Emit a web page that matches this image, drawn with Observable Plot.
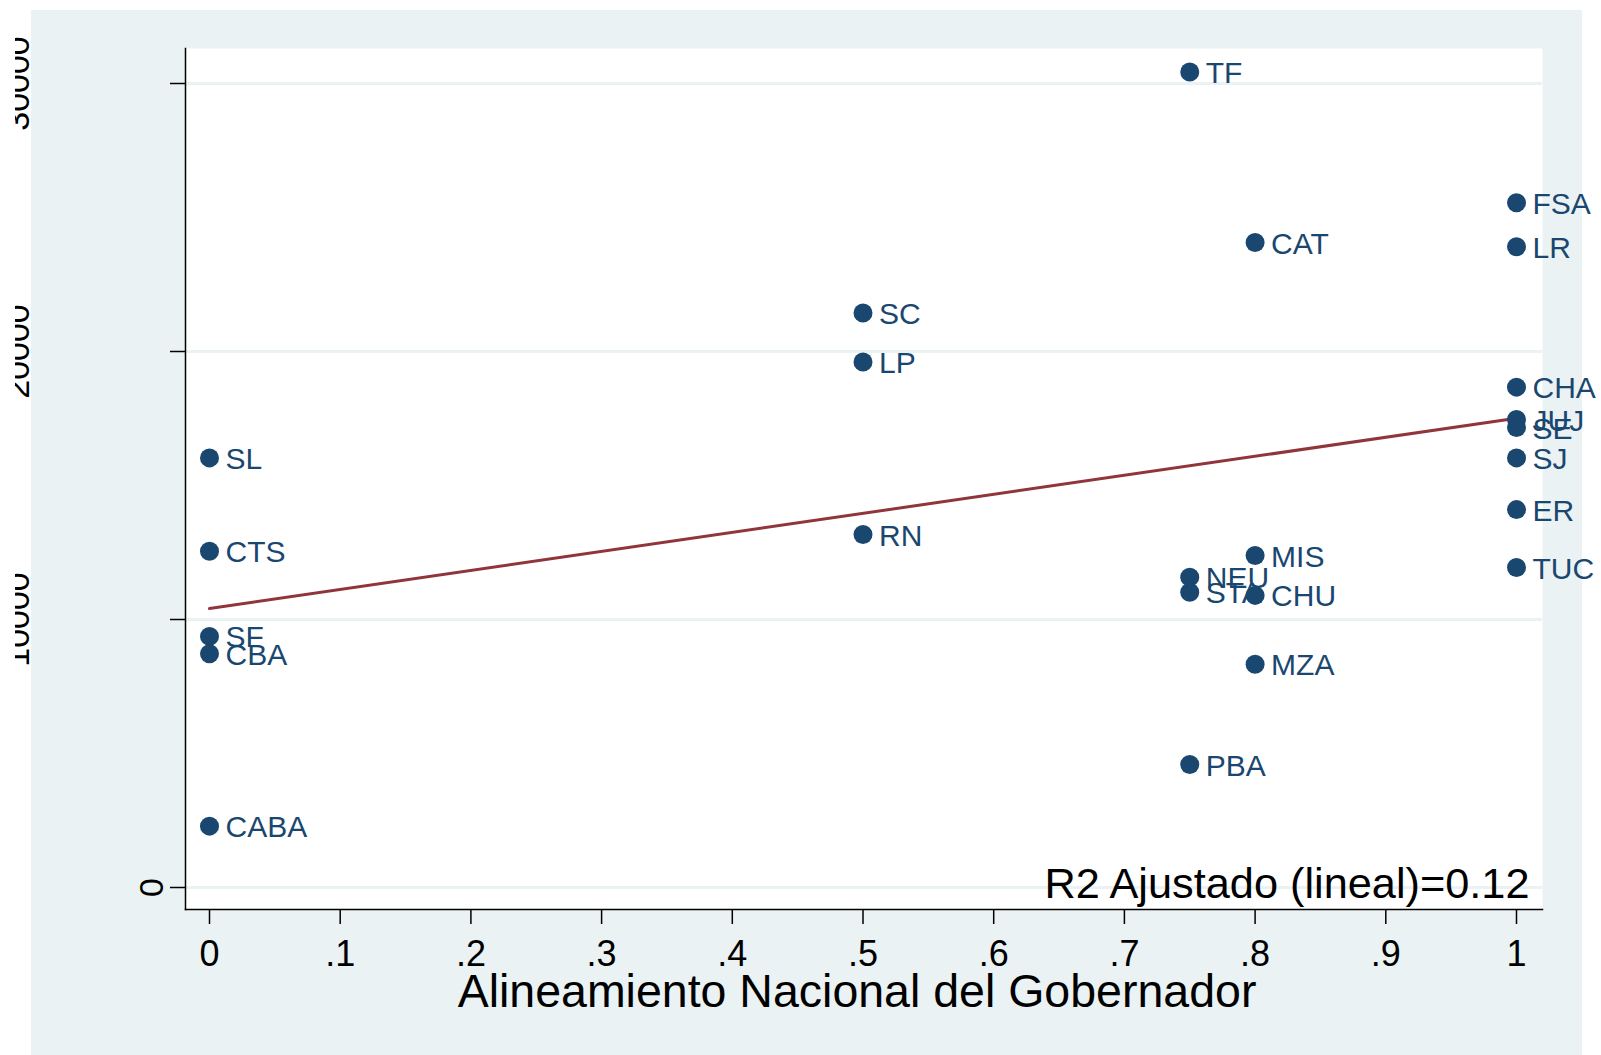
<!DOCTYPE html>
<html>
<head>
<meta charset="utf-8">
<script src="https://cdn.jsdelivr.net/npm/d3@7"></script>
<script src="https://cdn.jsdelivr.net/npm/@observablehq/plot@0.6"></script>
<style>
  html, body { margin: 0; padding: 0; background: #ffffff; }
  #bg { position: absolute; left: 31px; top: 10px; width: 1551px; height: 1045px; background: #eaf2f3; }
  #chart { position: absolute; left: 0; top: 0; }
  #chart svg { clip-path: inset(0px 0px 0px 15px); }
</style>
</head>
<body>
<div id="bg"></div>
<div id="chart"></div>
<script>
// ---- data ----
const provinces = ["SL","CTS","SF","CBA","CABA","SC","LP","RN","TF","NEU","STA","PBA","CAT","MIS","CHU","MZA","FSA","LR","CHA","JUJ","SE","SJ","ER","TUC"];
const alignment = [0,0,0,0,0,0.5,0.5,0.5,0.75,0.75,0.75,0.75,0.8,0.8,0.8,0.8,1,1,1,1,1,1,1,1];
const values = [16030,12550,9370,8720,2290,21440,19610,13170,30430,11580,11020,4590,24070,12390,10900,8330,25550,23910,18670,17460,17160,16030,14100,11940];
const xTicks = [0,0.1,0.2,0.3,0.4,0.5,0.6,0.7,0.8,0.9,1];
const yTicks = [0,10000,20000,30000];
const xTitle = "Alineamiento Nacional del Gobernador";
const r2Label = "R2 Ajustado (lineal)=0.12";

const data = provinces.map((p, i) => ({prov: p, x: alignment[i], y: values[i]}));

const navy = "#1a476f";
const maroon = "#90353b";
const grid = "#eaf2f3";

const plot = Plot.plot({
  width: 1601,
  height: 1055,
  marginLeft: 185,
  marginRight: 59,
  marginTop: 48,
  marginBottom: 146,
  style: {fontFamily: "'Liberation Sans', Arial, Helvetica, sans-serif", background: "transparent", color: "black"},
  x: {domain: [0, 1], insetLeft: 24, insetRight: 26, label: null, axis: null},
  y: {domain: [0, 30000], insetTop: 35, insetBottom: 22, label: null, axis: null},
  marks: [
    Plot.frame({fill: "white", stroke: "none"}),
    Plot.gridY(yTicks, {stroke: grid, strokeOpacity: 1, strokeWidth: 3}),
    Plot.linearRegressionY(data, {x: "x", y: "y", ci: 0, stroke: maroon, strokeWidth: 3}),
    Plot.dot(data, {x: "x", y: "y", r: 9.5, fill: navy, stroke: "none"}),
    Plot.text(data, {x: "x", y: "y", text: "prov", fill: navy, fontSize: 30, textAnchor: "start", dx: 16, dy: 1.5}),
    Plot.frame({anchor: "left", stroke: "black", strokeWidth: 1.5}),
    Plot.frame({anchor: "bottom", stroke: "black", strokeWidth: 1.5}),
    Plot.axisX(xTicks, {tickSize: 15, tickPadding: 16, fontSize: 36, label: null, strokeWidth: 1.5,
      tickFormat: d => (d === 0 || d === 1) ? String(d) : String(d).replace(/^0\./, ".")}),
    Plot.axisY(yTicks, {tickSize: 15, tickFormat: () => "", label: null, strokeWidth: 1.5}),
    Plot.axisY([0], {tickSize: 0, tickPadding: 0, rotate: -90, textAnchor: "middle", lineAnchor: "bottom", dx: -23, fontSize: 34, label: null, tickFormat: d => String(d)}),
    Plot.axisY(yTicks.filter(d => d > 0), {tickSize: 0, tickPadding: 0, rotate: -90, textAnchor: "middle", lineAnchor: "bottom", dx: -157, fontSize: 34, label: null, tickFormat: d => String(d)}),
    Plot.text([xTitle], {frameAnchor: "bottom", dy: 97, dx: -7, lineAnchor: "bottom", fontSize: 46.5, fill: "black"}),
    Plot.text([r2Label], {frameAnchor: "bottom-right", dx: -13, dy: -12, lineAnchor: "bottom", textAnchor: "end", fontSize: 43.3, fill: "black"})
  ]
});
document.getElementById("chart").appendChild(plot);
</script>
</body>
</html>
